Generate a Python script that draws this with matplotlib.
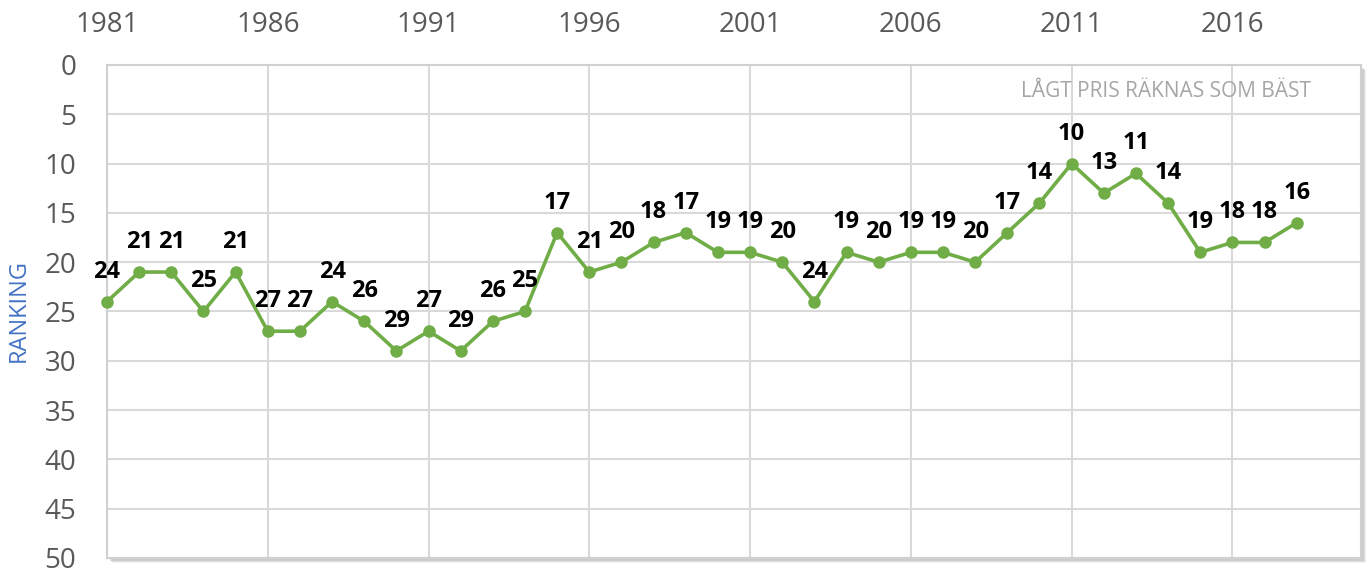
import matplotlib.pyplot as plt
from matplotlib.patches import Rectangle

# ======================
# DATA
# ======================
years = list(range(1981, 2019))
ranking = [24, 21, 21, 25, 21, 27, 27, 24, 26, 29,
           27, 29, 26, 25, 17, 21, 20, 18, 17, 19,
           19, 20, 24, 19, 20, 19, 19, 20, 17, 14,
           10, 13, 11, 14, 19, 18, 18, 16]
x_ticks = [1981, 1986, 1991, 1996, 2001, 2006, 2011, 2016]
y_ticks = [0, 5, 10, 15, 20, 25, 30, 35, 40, 45, 50]

plt.rcParams["font.family"] = ["Open Sans", "DejaVu Sans"]

fig = plt.figure(figsize=(13.68, 5.73), dpi=100)
ax = fig.add_axes([0.0782, 0.0262, 0.9167, 0.8604])

# soft shadow behind the plot area
for off, a in [(5, 0.10), (4, 0.15), (3, 0.2)]:
    dx = off / 1368
    dy = off / 573
    fig.patches.append(Rectangle((0.0782 + dx, 0.0262 - dy), 0.9167, 0.8604,
                                 transform=fig.transFigure, facecolor="#7f7f7f",
                                 alpha=a, edgecolor="none", zorder=-2))

ax.set_facecolor("white")
ax.plot(years, ranking, color="#70AD47", linewidth=2.6, marker="o",
        markersize=8, zorder=3, clip_on=False)

for x, y in zip(years, ranking):
    ax.annotate(str(y), (x, y), xytext=(0, 13), textcoords="offset points",
                ha="center", va="bottom", fontsize=17, fontweight="bold",
                color="black")

ax.set_xlim(1981, 2020)
ax.set_ylim(50, 0)
ax.set_xticks(x_ticks)
ax.set_yticks(y_ticks)
ax.xaxis.tick_top()
ax.tick_params(axis="both", length=0, labelsize=20, colors="#595959")
ax.tick_params(axis="x", pad=18.5)
ax.tick_params(axis="y", pad=22)
ax.grid(True, color="#D9D9D9", linewidth=1.5)
ax.set_axisbelow(True)
for s in ax.spines.values():
    s.set_color("#D0D0D0")
    s.set_linewidth(1.5)

fig.text(19 / 1368, 0.458, "RANKING", rotation=90, ha="center", va="center",
         color="#4472C4", fontsize=17)

ax.text(2018.45, 2.7, "LÅGT PRIS RÄKNAS SOM BÄST", ha="right", va="center",
        fontsize=15, color="#A6A6A6")

fig.savefig("out.png", dpi=100)
